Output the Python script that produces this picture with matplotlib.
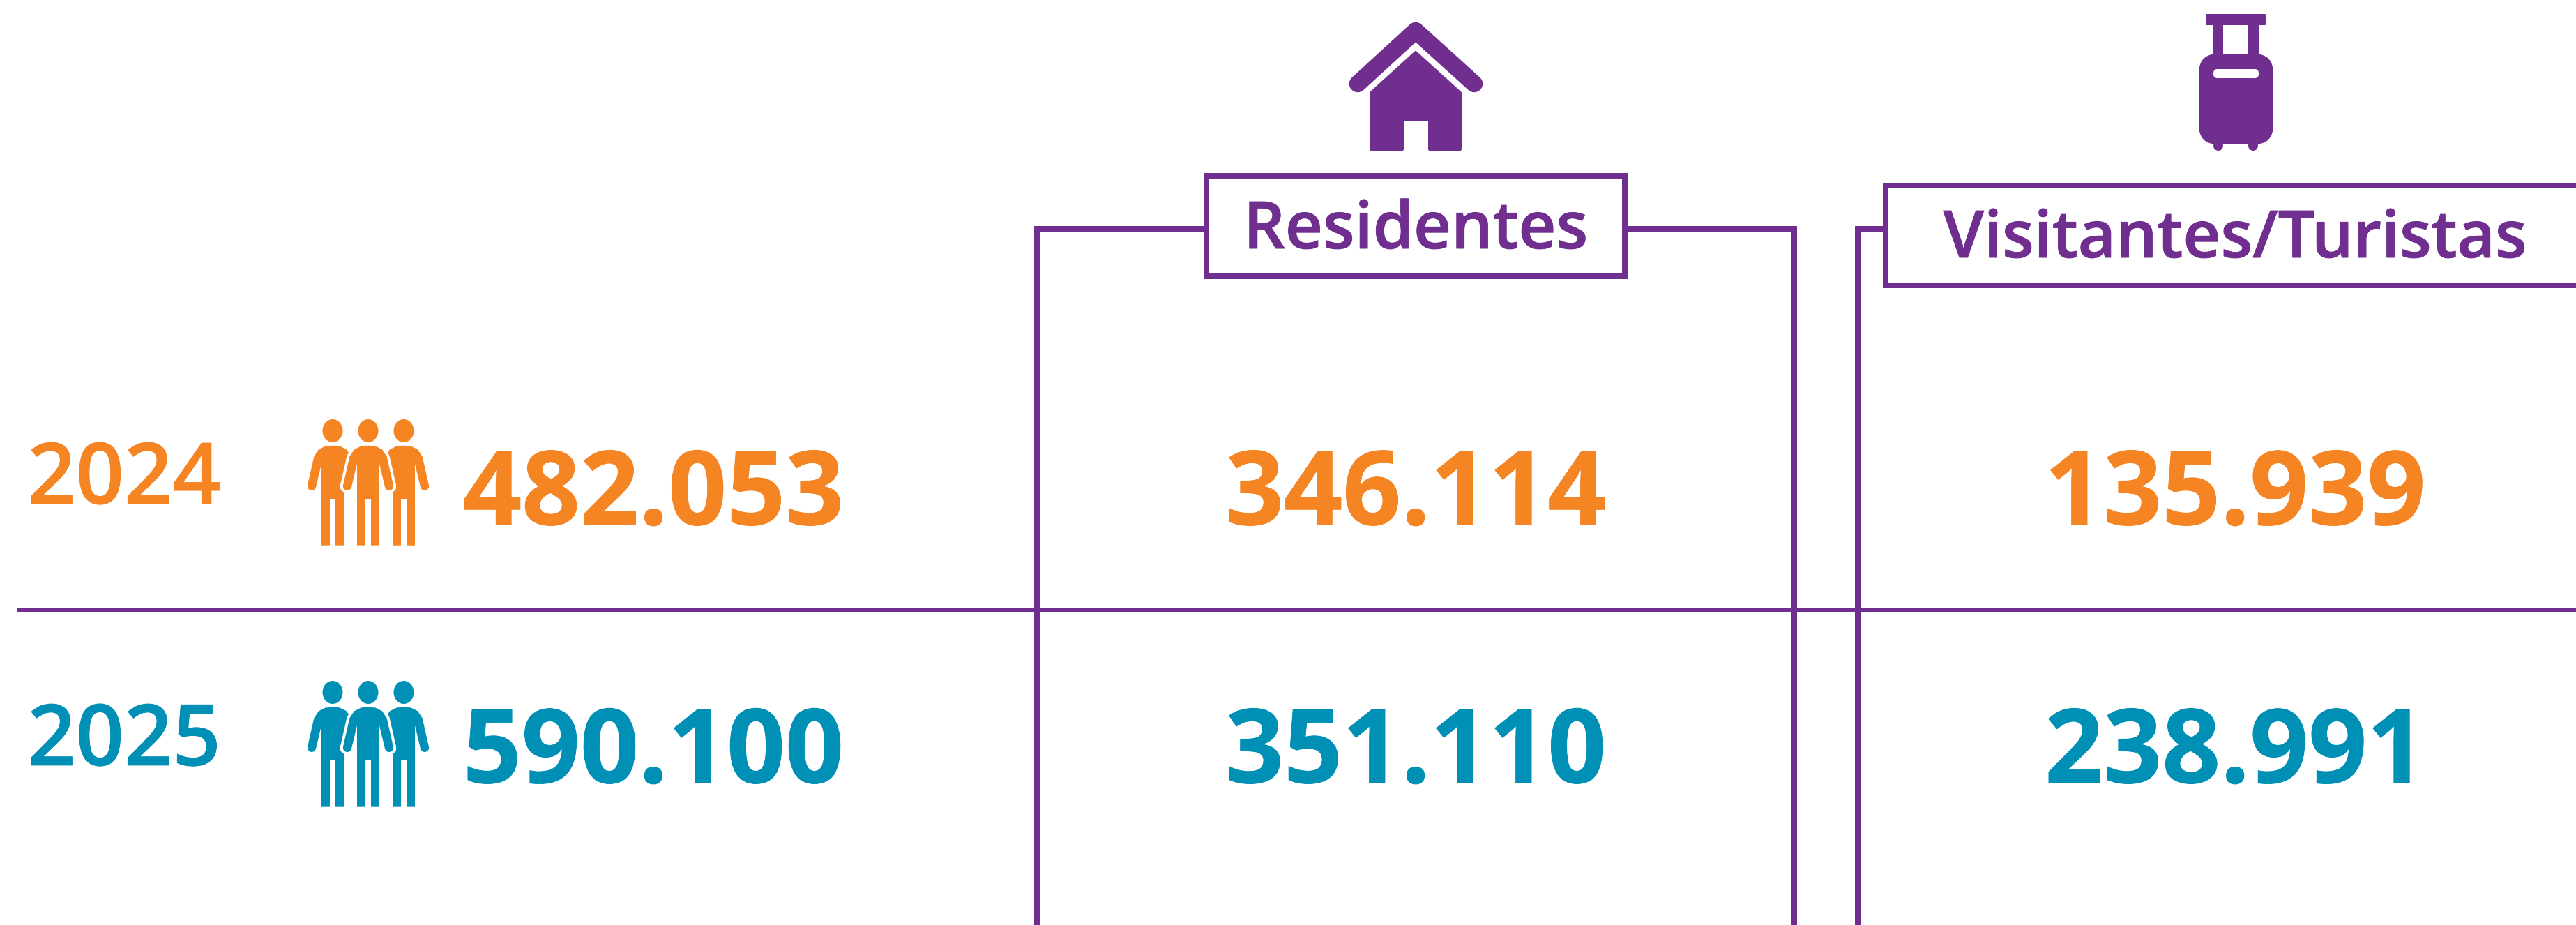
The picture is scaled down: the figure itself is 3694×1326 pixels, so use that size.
import matplotlib
matplotlib.use("Agg")
import matplotlib.pyplot as plt
import matplotlib.patheffects as pe
from matplotlib.patches import Rectangle, Ellipse, Circle, FancyBboxPatch

years = ["2024", "2025"]
totals = ["482.053", "590.100"]
residentes = ["346.114", "351.110"]
visitantes = ["135.939", "238.991"]
headers = ["Residentes", "Visitantes/Turistas"]

PURPLE = "#702F8F"
ORANGE = "#F58423"
TEAL = "#0090B5"
row_colors = [ORANGE, TEAL]
FONT = "Open Sans"
W, H = 3694, 1326

fig = plt.figure(figsize=(W / 100, H / 100), dpi=100, facecolor="white")
ax = fig.add_axes([0, 0, 1, 1])
ax.set_xlim(0, W)
ax.set_ylim(H, 0)
ax.axis("off")
PX = 72 / 100
LW = 8 * PX


def line(xs, ys, lw=LW):
    ax.plot(xs, ys, color=PURPLE, lw=lw, solid_capstyle="projecting", solid_joinstyle="miter", zorder=2)


def text(x, y, s, color, size, weight, stroke):
    t = ax.text(x, y, s, color=color, fontsize=size, fontweight=weight, family=FONT, ha="center", va="baseline",
                zorder=5)
    t.set_path_effects([pe.withStroke(linewidth=stroke * PX, foreground=color)])


def poly(pts, color, z=3, round_px=0):
    ax.add_patch(plt.Polygon(pts, closed=True, fc=color, ec=color if round_px else "none",
                             lw=round_px * PX, joinstyle="round", zorder=z))


def rbox(x0, y0, x1, y1, r, color, z=3):
    ax.add_patch(FancyBboxPatch((x0 + r, y0 + r), x1 - x0 - 2 * r, y1 - y0 - 2 * r,
                                boxstyle=f"round,pad={r},rounding_size={r}", fc=color, ec="none", zorder=z))


# Half outlines of a figure, measured in pixels x 3 from the body axis and head top
ARM = [(-30, 115), (-60, 130), (-80, 160), (-108, 284), (-108, 295), (-72, 292), (-48, 192)]
LEG = [(-48, 542), (-12, 542), (-12, 342)]


def to_px(cx, y0, pts):
    return [(cx + x / 3, y0 + y / 3) for x, y in pts]


def head(cx, y0, color, z):
    ax.add_patch(Ellipse((cx, y0 + 16.5), 29, 33, fc=color, ec="none", zorder=z))


def hand(cx, y0, side, color, z):
    ax.add_patch(Circle((cx + side * 90 / 3, y0 + 288 / 3), 18 / 3, fc=color, ec="none", zorder=z))


def centre_person(cx, y0, color):
    left = [(0, 113)] + ARM + LEG
    right = [(-x, y) for x, y in reversed(left[1:])]
    pts = to_px(cx, y0, left + right)
    ax.add_patch(plt.Polygon(pts, closed=True, fc="white", ec="white", lw=8 * PX, joinstyle="round", zorder=3.5))
    for side in (-1, 1):
        ax.add_patch(Circle((cx + side * 90 / 3, y0 + 288 / 3), 10, fc="white", ec="none", zorder=3.5))
    poly(pts, color, 4)
    hand(cx, y0, -1, color, 4)
    hand(cx, y0, 1, color, 4)
    head(cx, y0, color, 4)


def side_person(cx, y0, side, color):
    # side = -1 for the left figure: its inner arm is hidden behind the centre figure
    outer = [(0, 113)] + ARM + LEG
    inner = [(12, 342), (12, 542), (48, 542), (48, 317), (58, 292), (80, 160), (60, 130), (30, 115)]
    flip = 1 if side == -1 else -1
    pts = [(x * flip, y) for x, y in outer + inner]
    poly(to_px(cx, y0, pts), color, 3)
    hand(cx, y0, side, color, 3)
    head(cx, y0, color, 3)


def people(x, y0, color):
    side_person(x - 51, y0, -1, color)
    side_person(x + 51, y0, 1, color)
    centre_person(x, y0, color)


def house(color):
    ax.plot([1947, 2030, 2114], [120, 44, 120], color=color, lw=24.5 * PX, solid_capstyle="round",
            solid_joinstyle="round", zorder=3)
    poly([(1966, 133), (2030, 75), (2094, 133), (2094, 214), (2050, 214), (2050, 172), (2011, 172), (2011, 214),
          (1966, 214)], color, round_px=4)


def luggage(color):
    rbox(3163, 20, 3249, 36, 1, color)
    ax.add_patch(Rectangle((3174, 30), 14, 50, fc=color, ec="none", zorder=3))
    ax.add_patch(Rectangle((3224, 30), 15, 50, fc=color, ec="none", zorder=3))
    rbox(3153, 77, 3260, 207, 28, color)
    for xc in (3181, 3231):
        ax.add_patch(Circle((xc, 209), 7, fc=color, ec="none", zorder=3))
    rbox(3174, 99, 3239, 112, 6, "white", z=4)


# Frames
line([1487, 1487, 1730], [H + 10, 328, 328])
line([2330, 2573, 2573], [328, 328, H + 10])
line([2664, 2664, 2703], [H + 10, 328, 328])
ax.plot([24, W], [874, 874], color=PURPLE, lw=6 * PX, solid_capstyle="butt", zorder=2)

# Header boxes
ax.add_patch(Rectangle((1730, 252), 600, 144, fc="white", ec=PURPLE, lw=LW, zorder=3))
ax.add_patch(Rectangle((2703.5, 266), 1100, 143, fc="white", ec=PURPLE, lw=LW, zorder=3))
text(2030, 356, headers[0], PURPLE, 67.5, 600, 1)
text(3205, 369, headers[1], PURPLE, 67.5, 600, 1)

house(PURPLE)
luggage(PURPLE)

row_base = [752, 1122]
year_base = [722, 1097]
icon_top = [601, 976]
for i in range(2):
    c = row_colors[i]
    text(178, year_base[i], years[i], c, 87.5, 600, 0.8)
    people(528, icon_top[i], c)
    text(937, row_base[i], totals[i], c, 106, "bold", 1)
    text(2030, row_base[i], residentes[i], c, 106, "bold", 1)
    text(3205, row_base[i], visitantes[i], c, 106, "bold", 1)

fig.savefig("out.png", dpi=100, facecolor="white")
